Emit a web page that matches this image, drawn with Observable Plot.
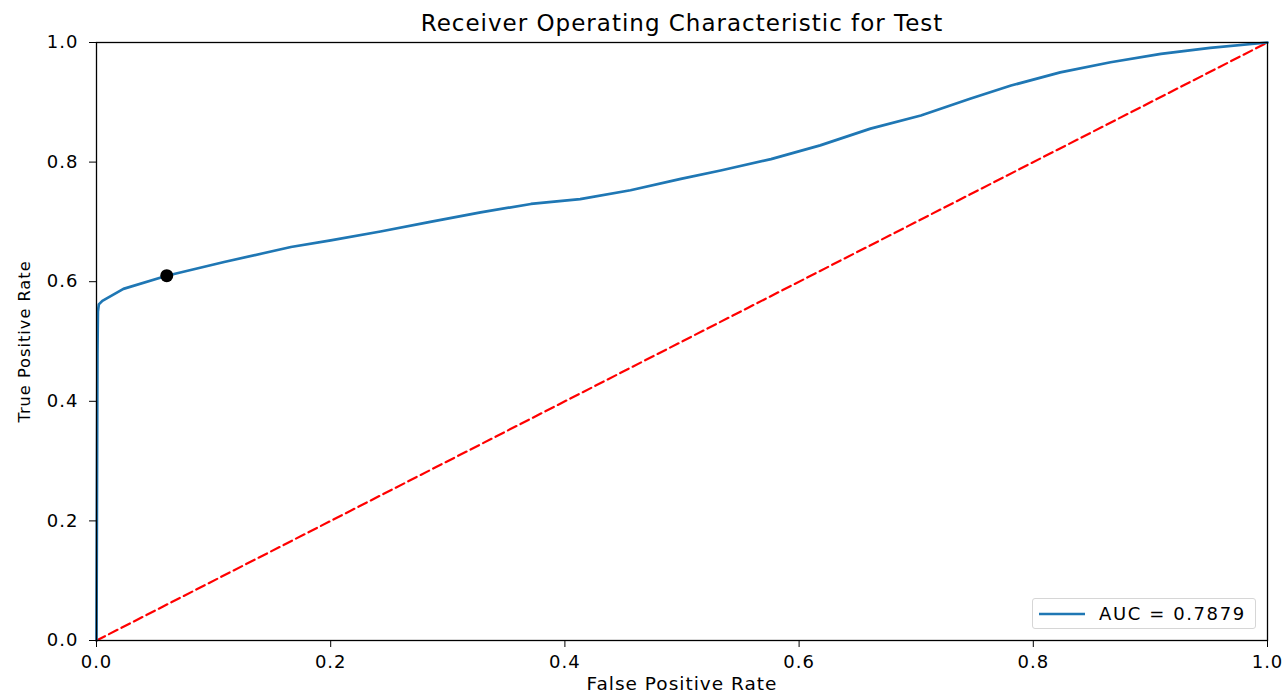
<!DOCTYPE html>
<html>
<head>
<meta charset="utf-8">
<script src="https://cdn.jsdelivr.net/npm/d3@7"></script>
<script src="https://cdn.jsdelivr.net/npm/@observablehq/plot@0.6"></script>
<style>
  body { margin: 0; background: #fff; }
  #wrap { position: relative; width: 1282px; height: 695px; font-family: "DejaVu Sans", sans-serif; }
  #legend {
    position: absolute; left: 1032px; top: 598px; width: 224px; height: 31px;
    border: 1px solid #d6d6d6; border-radius: 3px; background: rgba(255,255,255,0.85);
    display: flex; align-items: center; box-sizing: border-box;
    font-size: 18px; letter-spacing: 1.6px; color: #000;
  }
  #legend svg { margin-left: 6px; margin-right: 14px; }
</style>
</head>
<body>
<div id="wrap"></div>
<script>
// ROC curve points (false positive rate, true positive rate)
const fpr = [0, 0.0004, 0.0008, 0.0012, 0.002, 0.005, 0.023, 0.060, 0.109, 0.166, 0.200, 0.2425, 0.285, 0.328, 0.371, 0.413, 0.456, 0.499, 0.533, 0.576, 0.618, 0.661, 0.704, 0.746, 0.781, 0.823, 0.866, 0.909, 0.951, 1.0];
const tpr = [0, 0.25, 0.48, 0.55, 0.562, 0.568, 0.588, 0.610, 0.633, 0.658, 0.669, 0.684, 0.700, 0.716, 0.730, 0.738, 0.753, 0.772, 0.786, 0.805, 0.828, 0.856, 0.878, 0.906, 0.928, 0.950, 0.967, 0.981, 0.991, 1.0];

// Chance diagonal
const chanceX = [0, 1];
const chanceY = [0, 1];

// Selected operating point
const bestPoint = {fpr: 0.060, tpr: 0.610};

const auc = 0.7879;
const ticks = [0, 0.2, 0.4, 0.6, 0.8, 1.0];
const title = "Receiver Operating Characteristic for Test";
const xLabel = "False Positive Rate";
const yLabel = "True Positive Rate";

const roc = fpr.map((x, i) => ({x, y: tpr[i]}));
const chance = chanceX.map((x, i) => ({x, y: chanceY[i]}));

const chart = Plot.plot({
  width: 1282,
  height: 695,
  marginLeft: 96,
  marginRight: 15,
  marginTop: 42,
  marginBottom: 55,
  style: {fontFamily: "DejaVu Sans", fontSize: "18px", letterSpacing: "1px", color: "#000", background: "#fff"},
  x: {domain: [0, 1]},
  y: {domain: [0, 1]},
  marks: [
    Plot.line(chance, {x: "x", y: "y", stroke: "#ff0000", strokeWidth: 2.2, strokeDasharray: "9.5,4.5"}),
    Plot.line(roc, {x: "x", y: "y", stroke: "#1f77b4", strokeWidth: 2.7}),
    Plot.dot([bestPoint], {x: "fpr", y: "tpr", r: 6.5, fill: "#000", stroke: "none"}),
    Plot.frame({stroke: "#000", strokeWidth: 1.3}),
    Plot.axisX({ticks, tickFormat: d3.format(".1f"), tickSize: 7, tickPadding: 8, label: null, stroke: "#000"}),
    Plot.axisY({ticks, tickFormat: d3.format(".1f"), tickSize: 7, tickPadding: 11, label: null, stroke: "#000"}),
    Plot.text([title], {frameAnchor: "top", lineAnchor: "middle", dy: -19, fontSize: 23, fill: "#000"}),
    Plot.text([xLabel], {frameAnchor: "bottom", lineAnchor: "middle", dy: 44, fontSize: 18.5, fill: "#000"}),
    Plot.text([yLabel], {frameAnchor: "left", textAnchor: "middle", lineAnchor: "middle", dx: -72, rotate: -90, fontSize: 16.2, fill: "#000"})
  ]
});

const wrap = document.getElementById("wrap");
wrap.appendChild(chart);

// Legend box in the lower right corner
const legend = document.createElement("div");
legend.id = "legend";
legend.innerHTML = `<svg width="46" height="10"><line x1="0" y1="5" x2="46" y2="5" stroke="#1f77b4" stroke-width="2.7"/></svg><span>AUC = ${auc.toFixed(4)}</span>`;
wrap.appendChild(legend);
</script>
</body>
</html>
